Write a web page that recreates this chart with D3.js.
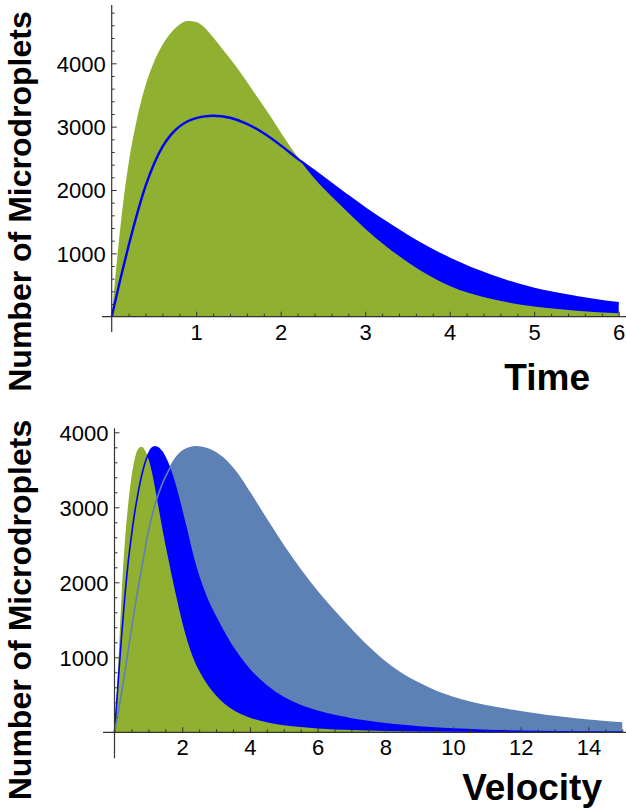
<!DOCTYPE html>
<html>
<head>
<meta charset="utf-8">
<script src="https://cdn.jsdelivr.net/npm/d3@7"></script>
<style>
  body { margin: 0; background: #fff; }
  text { font-family: "Liberation Sans", Arial, sans-serif; }
</style>
</head>
<body>
<svg id="chart" width="626" height="812"></svg>
<script>
// ---- top panel: number of microdroplets vs time ----
const timeGreenT = [0, 0.05, 0.1, 0.15, 0.2, 0.3, 0.4, 0.5, 0.6, 0.7, 0.8, 0.9, 1.0, 1.1, 1.2, 1.3, 1.4, 1.5, 1.6, 1.7, 1.8, 1.9, 2.0, 2.1, 2.2, 2.4, 2.6, 2.8, 3.0, 3.25, 3.5, 3.75, 4.0, 4.5, 5.0, 5.5, 6.0];
const timeGreen  = [0, 720, 1380, 1950, 2420, 3130, 3650, 4020, 4290, 4480, 4610, 4668, 4650, 4560, 4410, 4240, 4075, 3900, 3710, 3510, 3320, 3120, 2910, 2710, 2520, 2180, 1900, 1640, 1390, 1110, 865, 655, 485, 278, 160, 95, 55];

const timeBlueT = [0, 0.1, 0.2, 0.3, 0.4, 0.5, 0.6, 0.7, 0.8, 0.9, 1.0, 1.1, 1.2, 1.4, 1.6, 1.8, 2.0, 2.2, 2.4, 2.6, 2.8, 3.0, 3.25, 3.5, 3.75, 4.0, 4.5, 5.0, 5.5, 6.0];
const timeBlue  = [0, 580, 1120, 1620, 2060, 2410, 2680, 2870, 3000, 3085, 3135, 3162, 3172, 3140, 3045, 2895, 2705, 2495, 2300, 2100, 1900, 1710, 1485, 1275, 1085, 915, 640, 440, 310, 212];

const timeMajorX = [1, 2, 3, 4, 5, 6];
const timeMajorY = [1000, 2000, 3000, 4000];

// ---- bottom panel: number of microdroplets vs velocity ----
const velGreenV = [0, 0.05, 0.1, 0.15, 0.2, 0.25, 0.3, 0.4, 0.5, 0.6, 0.7, 0.8, 0.9, 1.0, 1.1, 1.2, 1.3, 1.4, 1.5, 1.6, 1.7, 1.8, 1.9, 2.0, 2.2, 2.4, 2.6, 2.8, 3.0, 3.25, 3.5, 3.75, 4.0, 4.5, 5.0, 5.5, 6, 7, 8, 10, 12, 15];
const velGreen  = [0, 350, 800, 1270, 1740, 2160, 2500, 3020, 3400, 3650, 3780, 3808, 3760, 3650, 3480, 3250, 3000, 2750, 2510, 2290, 2070, 1860, 1660, 1470, 1150, 910, 740, 600, 490, 380, 300, 240, 195, 135, 95, 70, 52, 30, 18, 7, 3, 1];

const velBlueV = [0, 0.1, 0.2, 0.3, 0.4, 0.5, 0.6, 0.7, 0.8, 0.9, 1.0, 1.1, 1.2, 1.3, 1.4, 1.5, 1.6, 1.7, 1.8, 1.9, 2.0, 2.1, 2.2, 2.33, 2.5, 2.75, 3.0, 3.25, 3.5, 3.75, 4.0, 4.5, 5.0, 5.5, 6.0, 6.5, 7.0, 7.5, 8, 9, 10, 11, 12, 13, 15];
const velBlue  = [0, 620, 1230, 1780, 2250, 2620, 2940, 3200, 3420, 3590, 3710, 3785, 3808, 3790, 3740, 3660, 3560, 3430, 3280, 3110, 2930, 2750, 2560, 2320, 2060, 1760, 1530, 1320, 1130, 970, 830, 615, 460, 355, 280, 222, 178, 142, 112, 70, 42, 25, 14, 8, 3];

const velSteelV = [0, 0.2, 0.4, 0.6, 0.8, 1.0, 1.2, 1.4, 1.6, 1.8, 2.0, 2.2, 2.43, 2.8, 3.2, 3.6, 4.0, 4.5, 5.0, 5.5, 6.0, 6.5, 7.0, 7.5, 8.0, 8.5, 9.0, 9.5, 10, 11, 12, 13, 14, 15];
const velSteel  = [0, 500, 1080, 1660, 2180, 2680, 3040, 3300, 3490, 3650, 3745, 3792, 3808, 3770, 3660, 3460, 3190, 2830, 2480, 2160, 1870, 1610, 1365, 1135, 935, 775, 650, 545, 465, 350, 275, 210, 160, 125];

const velMajorX = [2, 4, 6, 8, 10, 12, 14];
const velMajorY = [1000, 2000, 3000, 4000];

const GREEN = '#8fb031', BLUE = '#0000ff', STEEL = '#5e81b5', AXIS = '#333';

const svg = d3.select('#chart');

function panel(opts) {
  const g = svg.append('g');
  const x = opts.x, y = opts.y;

  const area = d3.area()
    .x(d => x(d[0]))
    .y0(y(0))
    .y1(d => y(d[1]))
    .curve(d3.curveMonotoneX);
  const line = d3.line()
    .x(d => x(d[0]))
    .y(d => y(d[1]))
    .curve(d3.curveMonotoneX);

  // filled curves, back to front
  opts.areas.forEach(s => {
    g.append('path').attr('d', area(d3.zip(s.xs, s.ys))).attr('fill', s.color);
  });
  // thin outlines drawn over the fills
  opts.lines.forEach(s => {
    g.append('path').attr('d', line(d3.zip(s.xs, s.ys)))
      .attr('fill', 'none').attr('stroke', s.color).attr('stroke-width', s.width);
  });

  // minor ticks (inward, no labels)
  g.append('g')
    .attr('transform', `translate(0,${y(0)})`)
    .call(d3.axisTop(x).tickValues(opts.minorX).tickSize(3).tickFormat(''))
    .call(a => a.select('.domain').remove())
    .call(a => a.selectAll('line').attr('stroke', AXIS));
  g.append('g')
    .attr('transform', `translate(${x(0)},0)`)
    .call(d3.axisRight(y).tickValues(opts.minorY).tickSize(3).tickFormat(''))
    .call(a => a.select('.domain').remove())
    .call(a => a.selectAll('line').attr('stroke', AXIS));

  // major ticks
  const xa = g.append('g')
    .attr('transform', `translate(0,${y(0)})`)
    .call(d3.axisTop(x).tickValues(opts.majorX).tickSize(5).tickFormat(d3.format('d')));
  xa.select('.domain').remove();
  xa.selectAll('line').attr('stroke', AXIS);
  xa.selectAll('text')
    .attr('y', 23).attr('dy', 0)
    .attr('font-size', 22).attr('fill', '#000');

  const ya = g.append('g')
    .attr('transform', `translate(${x(0)},0)`)
    .call(d3.axisRight(y).tickValues(opts.majorY).tickSize(5).tickFormat(d3.format('d')));
  ya.select('.domain').remove();
  ya.selectAll('line').attr('stroke', AXIS);
  ya.selectAll('text')
    .attr('x', -6).attr('dy', '0.36em')
    .attr('text-anchor', 'end')
    .attr('font-size', 22).attr('fill', '#000');

  // axis lines, a little past the origin like Mathematica
  g.append('line')
    .attr('x1', x(opts.xExtent[0])).attr('x2', x(opts.xExtent[1]))
    .attr('y1', y(0)).attr('y2', y(0))
    .attr('stroke', AXIS).attr('stroke-width', 1.2);
  g.append('line')
    .attr('x1', x(0)).attr('x2', x(0))
    .attr('y1', y(opts.yExtent[0])).attr('y2', y(opts.yExtent[1]))
    .attr('stroke', AXIS).attr('stroke-width', 1.2);

  // axis titles
  g.append('text')
    .attr('transform', `translate(31,${opts.yTitleMid}) rotate(-90)`)
    .attr('text-anchor', 'middle')
    .attr('font-size', 32).attr('font-weight', 'bold')
    .text('Number of Microdroplets');
  g.append('text')
    .attr('x', opts.xTitlePos[0]).attr('y', opts.xTitlePos[1])
    .attr('text-anchor', 'end')
    .attr('font-size', 37).attr('font-weight', 'bold')
    .text(opts.xTitle);
}

const xTime = d3.scaleLinear().domain([0, 6]).range([111.7, 618.7]);
const yTime = d3.scaleLinear().domain([0, 4000]).range([316.7, 63.3]);

panel({
  x: xTime, y: yTime,
  areas: [
    { xs: timeBlueT, ys: timeBlue, color: BLUE },
    { xs: timeGreenT, ys: timeGreen, color: GREEN }
  ],
  lines: [
    { xs: timeBlueT, ys: timeBlue, color: BLUE, width: 2.4 }
  ],
  majorX: timeMajorX,
  majorY: timeMajorY,
  minorX: d3.range(1, 31).map(i => i / 5).filter(v => !Number.isInteger(v)),
  minorY: d3.range(1, 25).map(i => i * 200).filter(v => v % 1000 !== 0),
  xExtent: [-0.115, 6.1],
  yExtent: [-240, 4920],
  yTitleMid: 201.5,
  xTitle: 'Time',
  xTitlePos: [590, 390]
});

const xVel = d3.scaleLinear().domain([0, 14]).range([114.5, 588.4]);
const yVel = d3.scaleLinear().domain([0, 4000]).range([732.3, 432.3]);

panel({
  x: xVel, y: yVel,
  areas: [
    { xs: velSteelV, ys: velSteel, color: STEEL },
    { xs: velBlueV, ys: velBlue, color: BLUE },
    { xs: velGreenV, ys: velGreen, color: GREEN }
  ],
  lines: [
    { xs: velBlueV, ys: velBlue, color: BLUE, width: 1.6 },
    { xs: velSteelV, ys: velSteel, color: STEEL, width: 1.6 }
  ],
  majorX: velMajorX,
  majorY: velMajorY,
  minorX: d3.range(1, 31).map(i => i / 2).filter(v => v % 2 !== 0),
  minorY: d3.range(1, 21).map(i => i * 200).filter(v => v % 1000 !== 0),
  xExtent: [-0.34, 15.3],
  yExtent: [-345, 4055],
  yTitleMid: 610,
  xTitle: 'Velocity',
  xTitlePos: [602, 800]
});
</script>
</body>
</html>
